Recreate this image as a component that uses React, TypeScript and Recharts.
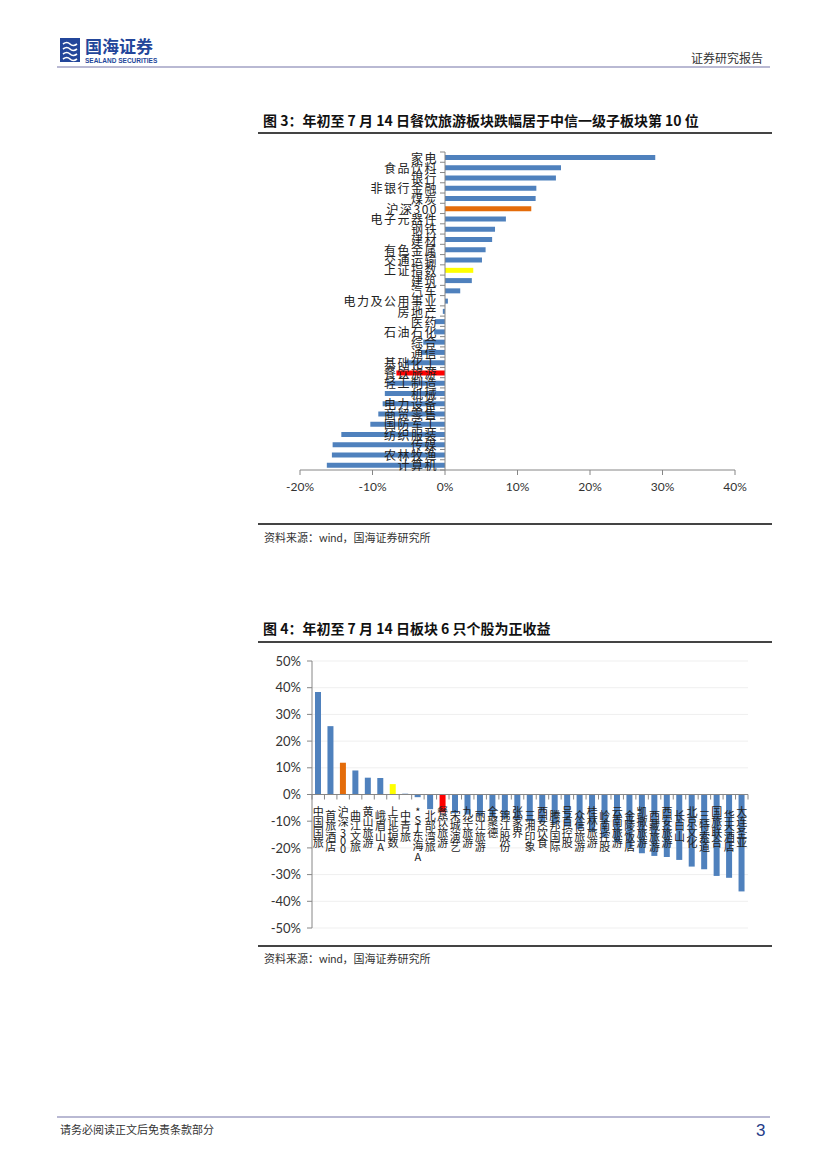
import React from 'react';
import { BarChart, Bar, XAxis, YAxis, CartesianGrid, ReferenceLine, Cell } from 'recharts';

// 图3: 中信一级行业 年初至7月14日涨跌幅 (%)
const sectorNames = [
  '家电', '食品饮料', '银行', '非银行金融', '煤炭', '沪深300', '电子元器件', '钢铁',
  '建材', '有色金属', '交通运输', '上证指数', '建筑', '汽车', '电力及公用事业', '房地产',
  '医药', '石油石化', '综合', '通信', '基础化工', '餐饮旅游', '轻工制造', '机械',
  '电力设备', '商贸零售', '国防军工', '纺织服装', '传媒', '农林牧渔', '计算机',
];
const sectorReturns = [
  29.0, 16.0, 15.3, 12.6, 12.5, 11.9, 8.4, 6.9,
  6.5, 5.6, 5.1, 3.9, 3.7, 2.1, 0.4, -0.3,
  -1.4, -1.5, -3.0, -3.3, -5.5, -6.7, -7.9, -8.3,
  -8.6, -9.2, -10.3, -14.3, -15.5, -15.6, -16.3,
];
const sectorTicks = [-20, -10, 0, 10, 20, 30, 40];

// 图4: 板块个股 年初至7月14日涨跌幅 (%)
const stockNames = [
  '中国国旅', '首旅酒店', '沪深300', '曲江文旅', '黄山旅游', '峨眉山A', '上证指数', '中青旅',
  '*ST东海A', '北部湾旅', '餐饮旅游', '宋城演艺', '九华旅游', '丽江旅游', '全聚德', '锦江股份',
  '张家界', '三湘印象', '西安饮食', '腾邦国际', '号百控股', '众信旅游', '桂林旅游', '岭南控股',
  '云南旅游', '金陵饭店', '凯撒旅游', '西藏旅游', '西安旅游', '长白山', '北京文化', '三特索道',
  '国旅联合', '华天酒店', '大连圣亚',
];
const stockReturns = [
  38.4, 25.6, 11.9, 9.0, 6.3, 6.2, 3.9, 0.3,
  -1.0, -5.5, -6.7, -7.0, -7.5, -8.0, -8.5, -9.0,
  -9.5, -10.0, -10.5, -11.0, -12.0, -13.0, -14.0, -16.0,
  -18.0, -20.0, -22.0, -23.0, -23.4, -24.5, -27.0, -28.0,
  -30.5, -31.2, -36.3,
];
const stockTicks = [-50, -40, -30, -20, -10, 0, 10, 20, 30, 40, 50];

const BLUE = '#4F81BD';
const AXIS = '#868686';
const CJK = '"Noto Sans CJK SC", "Noto Sans", sans-serif';
const NUM = 'Lato, "Open Sans", sans-serif';

const barColor = (name: string) => {
  if (name === '沪深300') return '#E46C0A';
  if (name === '上证指数') return '#FFFF00';
  if (name === '餐饮旅游') return '#FF0000';
  return BLUE;
};

const sectorData = sectorNames.map((name, i) => ({ name, value: sectorReturns[i] }));
const stockData = stockNames.map((name, i) => ({ name, value: stockReturns[i] }));

// chart 3 geometry (y axis kept 1px wide so recharts still draws its ticks)
const C3 = { w: 520, h: 370, m: { top: 12, right: 35, bottom: 10, left: 49 }, yw: 1, xh: 30 };
const c3PlotL = C3.m.left + C3.yw;
const c3PlotW = C3.w - c3PlotL - C3.m.right;
const c3PlotH = C3.h - C3.m.top - C3.m.bottom - C3.xh;
const c3ZeroX = c3PlotL + (c3PlotW * (0 - sectorTicks[0])) / (sectorTicks[sectorTicks.length - 1] - sectorTicks[0]);
const c3Band = c3PlotH / sectorNames.length;

const SectorTick = (props: any) => {
  const { y, payload, index } = props;
  const last = index === sectorNames.length - 1;
  return (
    <g>
      <text x={c3ZeroX - 7} y={y} textAnchor="end" dominantBaseline="central"
        fontSize={12} letterSpacing={1.5} fill="#222" fontFamily={CJK}>
        {payload.value}
      </text>
      <line x1={c3ZeroX - 5} x2={c3ZeroX} y1={y - c3Band / 2} y2={y - c3Band / 2} stroke={AXIS} />
      {last && <line x1={c3ZeroX - 5} x2={c3ZeroX} y1={y + c3Band / 2} y2={y + c3Band / 2} stroke={AXIS} />}
    </g>
  );
};

// chart 4 geometry
const C4 = { w: 513, h: 289, m: { top: 11, right: 20, bottom: 10, left: 12 }, yw: 45, xh: 1 };
const c4PlotW = C4.w - C4.m.left - C4.m.right - C4.yw;
const c4PlotH = C4.h - C4.m.top - C4.m.bottom - C4.xh;
const c4ZeroY = C4.m.top + c4PlotH / 2;
const c4Band = c4PlotW / stockNames.length;

const StockTick = (props: any) => {
  const { x, payload, index } = props;
  const chars: string[] = Array.from(payload.value as string);
  const top = c4ZeroY + 12 + (index % 2) * 4;
  let yy = top + 9;
  const last = index === stockNames.length - 1;
  return (
    <g>
      <text textAnchor="middle" fontSize={11} fill="#222" fontFamily={CJK}>
        {chars.map((c, i) => {
          const ascii = c.charCodeAt(0) < 128;
          const t = <tspan key={i} x={x} y={yy}>{c}</tspan>;
          yy += ascii ? 8 : 10.5;
          return t;
        })}
      </text>
      <line x1={x - c4Band / 2} x2={x - c4Band / 2} y1={c4ZeroY} y2={c4ZeroY + 5} stroke={AXIS} />
      {last && <line x1={x + c4Band / 2} x2={x + c4Band / 2} y1={c4ZeroY} y2={c4ZeroY + 5} stroke={AXIS} />}
    </g>
  );
};

const pct = (v: number) => `${v}%`;

const abs = (left: number, top: number): React.CSSProperties => ({ position: 'absolute', left, top });

const Logo = () => (
  <svg width={180} height={36} style={abs(58, 34)}>
    <rect x={2} y={4} width={20} height={24} fill="#23469a" />
    <path d="M5 10 Q9 7 12 10 T19 10" stroke="#fff" strokeWidth={1.6} fill="none" />
    <path d="M5 15 Q9 12 12 15 T19 15" stroke="#fff" strokeWidth={1.6} fill="none" />
    <path d="M5 20 Q9 17 12 20 T19 20" stroke="#fff" strokeWidth={1.6} fill="none" />
    <path d="M5 25 Q9 22 12 25 T19 25" stroke="#fff" strokeWidth={1.6} fill="none" />
    <text x={27} y={19} fontSize={17} fontWeight={700} fill="#23469a" fontFamily={CJK}>国海证券</text>
    <text x={27} y={29} fontSize={6.5} fontWeight={700} fill="#23469a" fontFamily="Liberation Sans Narrow, Liberation Sans, sans-serif">SEALAND SECURITIES</text>
  </svg>
);

export default function App() {
  return (
    <div style={{ position: 'absolute', left: 0, top: 0, width: 827, height: 1169, background: '#fff', fontFamily: CJK }}>
      <Logo />
      <div style={{ ...abs(691, 49), fontSize: 12, color: '#333' }}>证券研究报告</div>
      <div style={{ ...abs(57, 66), width: 713, height: 2, background: '#b9b9d3' }} />

      {/* 图 3 */}
      <div style={{ ...abs(263, 110), fontSize: 14, fontWeight: 700, color: '#111' }}>
        图 3：年初至 7 月 14 日餐饮旅游板块跌幅居于中信一级子板块第 10 位
      </div>
      <div style={{ ...abs(258, 132), width: 514, height: 1.5, background: '#444' }} />
      <div style={abs(250, 140)}>
        <BarChart width={C3.w} height={C3.h} data={sectorData} layout="vertical" margin={C3.m} barCategoryGap={0}>
          <XAxis type="number" domain={[sectorTicks[0], sectorTicks[sectorTicks.length - 1]]} ticks={sectorTicks}
            tickFormatter={pct} height={C3.xh} stroke={AXIS} tickSize={5} tickMargin={7}
            tick={{ fontSize: 12, fill: '#333', fontFamily: NUM }} />
          <YAxis type="category" dataKey="name" width={C3.yw} axisLine={false} tickLine={false}
            interval={0} tick={(p: any) => <SectorTick {...p} />} />
          <Bar dataKey="value" barSize={5} isAnimationActive={false}>
            {sectorData.map((d) => <Cell key={d.name} fill={barColor(d.name)} />)}
          </Bar>
          <ReferenceLine x={0} stroke={AXIS} />
        </BarChart>
      </div>
      <div style={{ ...abs(258, 523), width: 514, height: 1.5, background: '#444' }} />
      <div style={{ ...abs(264, 529), fontSize: 11, color: '#333' }}>
        资料来源：<span style={{ fontFamily: NUM }}>wind</span>，国海证券研究所
      </div>

      {/* 图 4 */}
      <div style={{ ...abs(263, 618), fontSize: 14, fontWeight: 700, color: '#111' }}>
        图 4：年初至 7 月 14 日板块 6 只个股为正收益
      </div>
      <div style={{ ...abs(258, 641), width: 514, height: 1.5, background: '#444' }} />
      <div style={abs(255, 650)}>
        <BarChart width={C4.w} height={C4.h} data={stockData} margin={C4.m} barCategoryGap={0}>
          <CartesianGrid vertical={false} stroke="#efefef" />
          <XAxis dataKey="name" height={C4.xh} axisLine={false} tickLine={false} interval={0}
            tick={(p: any) => <StockTick {...p} />} />
          <YAxis type="number" domain={[stockTicks[0], stockTicks[stockTicks.length - 1]]} ticks={stockTicks}
            tickFormatter={pct} width={C4.yw} stroke={AXIS} tickSize={5} tickMargin={6}
            tick={{ fontSize: 13, fill: '#333', fontFamily: NUM }} />
          <Bar dataKey="value" barSize={6} isAnimationActive={false}>
            {stockData.map((d) => <Cell key={d.name} fill={barColor(d.name)} />)}
          </Bar>
          <ReferenceLine y={0} stroke={AXIS} />
        </BarChart>
      </div>
      <div style={{ ...abs(258, 945), width: 514, height: 1.5, background: '#444' }} />
      <div style={{ ...abs(264, 950), fontSize: 11, color: '#333' }}>
        资料来源：<span style={{ fontFamily: NUM }}>wind</span>，国海证券研究所
      </div>

      <div style={{ ...abs(57, 1116), width: 713, height: 2, background: '#b9b9d3' }} />
      <div style={{ ...abs(60, 1121), fontSize: 11, color: '#333' }}>请务必阅读正文后免责条款部分</div>
      <div style={{ ...abs(756, 1121), fontSize: 17, color: '#1f3c88', fontFamily: 'Liberation Sans, sans-serif' }}>3</div>
    </div>
  );
}
